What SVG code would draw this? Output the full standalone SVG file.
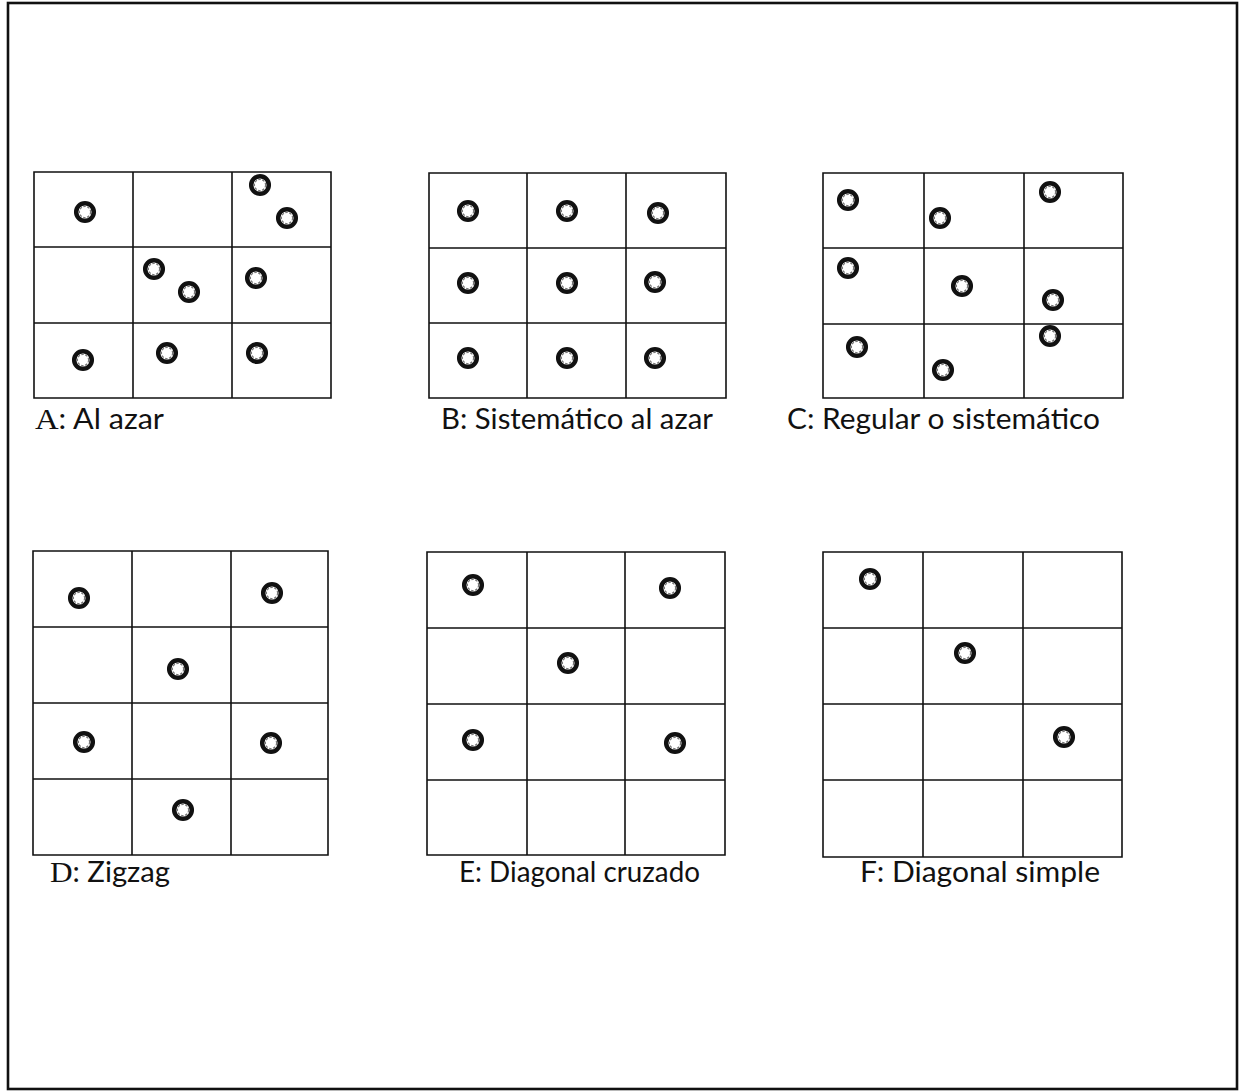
<svg xmlns="http://www.w3.org/2000/svg" xmlns:xlink="http://www.w3.org/1999/xlink" width="1246" height="1091" viewBox="0 0 1246 1091">
<style>
.g{fill:none;stroke:#111;stroke-width:1.6}
.lbl{font-family:Lato,"Open Sans","Liberation Sans",sans-serif;font-size:28px;fill:#111}
.serif{font-family:"Liberation Serif",serif;font-size:30px}
.pt{fill:#fff;stroke:#111;stroke-width:4.5}
.pi{fill:none;stroke:#777;stroke-width:1.2;stroke-dasharray:2.5 1.5}
</style>
<defs>
<g id="dot"><circle class="pt" r="8.8"/><circle class="pi" r="5.6"/></g>
</defs>
<rect x="8" y="3" width="1229" height="1086" fill="#fff" stroke="#111" stroke-width="2.6"/>

<g id="A">
<path class="g" d="M34 172H331V398H34Z M133 172V398 M232 172V398 M34 247H331 M34 323H331"/>
<use href="#dot" x="85" y="212"/><use href="#dot" x="260" y="185"/><use href="#dot" x="287" y="218"/>
<use href="#dot" x="154" y="269"/><use href="#dot" x="189" y="292"/><use href="#dot" x="256" y="278"/>
<use href="#dot" x="83" y="360"/><use href="#dot" x="167" y="353"/><use href="#dot" x="257" y="353"/>
<text class="lbl" x="35" y="429" textLength="129" lengthAdjust="spacingAndGlyphs"><tspan class="serif">A</tspan>: Al azar</text>
</g>

<g id="B">
<path class="g" d="M429 173H726V398H429Z M527 173V398 M626 173V398 M429 248H726 M429 323H726"/>
<use href="#dot" x="468" y="211"/><use href="#dot" x="567" y="211"/><use href="#dot" x="658" y="213"/>
<use href="#dot" x="468" y="283"/><use href="#dot" x="567" y="283"/><use href="#dot" x="655" y="282"/>
<use href="#dot" x="468" y="358"/><use href="#dot" x="567" y="358"/><use href="#dot" x="655" y="358"/>
<text class="lbl" x="441" y="429" textLength="272" lengthAdjust="spacingAndGlyphs">B: Sistemático al azar</text>
</g>

<g id="C">
<path class="g" d="M823 173H1123V398H823Z M924 173V398 M1024 173V398 M823 248H1123 M823 324H1123"/>
<use href="#dot" x="848" y="200"/><use href="#dot" x="940" y="218"/><use href="#dot" x="1050" y="192"/>
<use href="#dot" x="848" y="268"/><use href="#dot" x="962" y="286"/><use href="#dot" x="1053" y="300"/>
<use href="#dot" x="857" y="347"/><use href="#dot" x="943" y="370"/><use href="#dot" x="1050" y="336"/>
<text class="lbl" x="787" y="429" textLength="313" lengthAdjust="spacingAndGlyphs">C: Regular o sistemático</text>
</g>

<g id="D">
<path class="g" d="M33 551H328V855H33Z M132 551V855 M231 551V855 M33 627H328 M33 703H328 M33 779H328"/>
<use href="#dot" x="79" y="598"/><use href="#dot" x="272" y="593"/><use href="#dot" x="178" y="669"/>
<use href="#dot" x="84" y="742"/><use href="#dot" x="271" y="743"/><use href="#dot" x="183" y="810"/>
<text class="lbl" x="50" y="882" textLength="120" lengthAdjust="spacingAndGlyphs"><tspan class="serif">D</tspan>: Zigzag</text>
</g>

<g id="E">
<path class="g" d="M427 552H725V855H427Z M527 552V855 M625 552V855 M427 628H725 M427 704H725 M427 780H725"/>
<use href="#dot" x="473" y="585"/><use href="#dot" x="670" y="588"/><use href="#dot" x="568" y="663"/>
<use href="#dot" x="473" y="740"/><use href="#dot" x="675" y="743"/>
<text class="lbl" x="459" y="882" textLength="241" lengthAdjust="spacingAndGlyphs">E: Diagonal cruzado</text>
</g>

<g id="F">
<path class="g" d="M823 552H1122V857H823Z M923 552V857 M1023 552V857 M823 628H1122 M823 704H1122 M823 780H1122"/>
<use href="#dot" x="870" y="579"/><use href="#dot" x="965" y="653"/><use href="#dot" x="1064" y="737"/>
<text class="lbl" x="860" y="882" textLength="240" lengthAdjust="spacingAndGlyphs">F: Diagonal simple</text>
</g>
</svg>
